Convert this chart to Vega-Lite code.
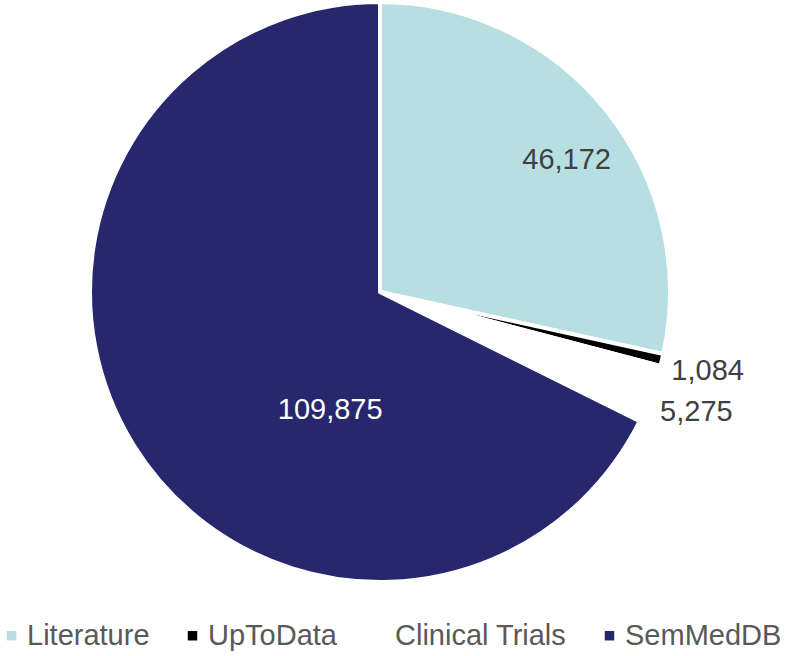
{
  "$schema": "https://vega.github.io/schema/vega-lite/v6.json",
  "width": 760,
  "height": 584,
  "autosize": "none",
  "padding": {"left": 0, "top": 0, "right": 27, "bottom": 72},
  "background": "white",
  "data": {
    "values": [
      {"source": "Literature", "count": 46172, "rank": 1, "label": "46,172"},
      {"source": "UpToData", "count": 1084, "rank": 2, "label": "1,084"},
      {"source": "Clinical Trials", "count": 5275, "rank": 3, "label": "5,275"},
      {"source": "SemMedDB", "count": 109875, "rank": 4, "label": "109,875"}
    ]
  },
  "encoding": {
    "theta": {"field": "count", "type": "quantitative", "stack": true},
    "order": {"field": "rank", "type": "quantitative"}
  },
  "layer": [
    {
      "mark": {"type": "arc", "outerRadius": 290, "stroke": "white", "strokeWidth": 4},
      "encoding": {
        "color": {
          "field": "source",
          "type": "nominal",
          "sort": ["Literature", "UpToData", "Clinical Trials", "SemMedDB"],
          "scale": {
            "domain": ["Literature", "UpToData", "Clinical Trials", "SemMedDB"],
            "range": ["#B7DFE2", "#000000", "#FFFFFF", "#27276E"]
          },
          "legend": {
            "title": null,
            "orient": "none",
            "direction": "horizontal",
            "legendX": -3,
            "legendY": 621,
            "padding": 0,
            "columnPadding": 28,
            "labelOffset": 1,
            "symbolType": "square",
            "symbolSize": 90,
            "symbolStrokeWidth": 0,
            "labelFont": "Liberation Sans",
            "labelFontSize": 29,
            "labelColor": "#595959",
            "labelLimit": 400
          }
        }
      }
    },
    {
      "mark": {"type": "text", "radius": 228, "dx": 9, "dy": 11, "font": "Liberation Sans", "fontSize": 29, "color": "#404040", "align": "center", "baseline": "middle"},
      "encoding": {
        "text": {"condition": {"test": "datum.source === 'Literature'", "field": "label"}, "value": ""}
      }
    },
    {
      "mark": {"type": "text", "radius": 337, "dx": 0, "dy": 0, "font": "Liberation Sans", "fontSize": 29, "color": "#404040", "align": "center", "baseline": "middle"},
      "encoding": {
        "text": {"condition": {"test": "datum.source === 'UpToData'", "field": "label"}, "value": ""}
      }
    },
    {
      "mark": {"type": "text", "radius": 338, "dx": 0, "dy": 1, "font": "Liberation Sans", "fontSize": 29, "color": "#404040", "align": "center", "baseline": "middle"},
      "encoding": {
        "text": {"condition": {"test": "datum.source === 'Clinical Trials'", "field": "label"}, "value": ""}
      }
    },
    {
      "mark": {"type": "text", "radius": 128, "dx": 59, "dy": 51, "font": "Liberation Sans", "fontSize": 29, "color": "#FFFFFF", "align": "center", "baseline": "middle"},
      "encoding": {
        "text": {"condition": {"test": "datum.source === 'SemMedDB'", "field": "label"}, "value": ""}
      }
    }
  ],
  "config": {"view": {"stroke": null}}
}
